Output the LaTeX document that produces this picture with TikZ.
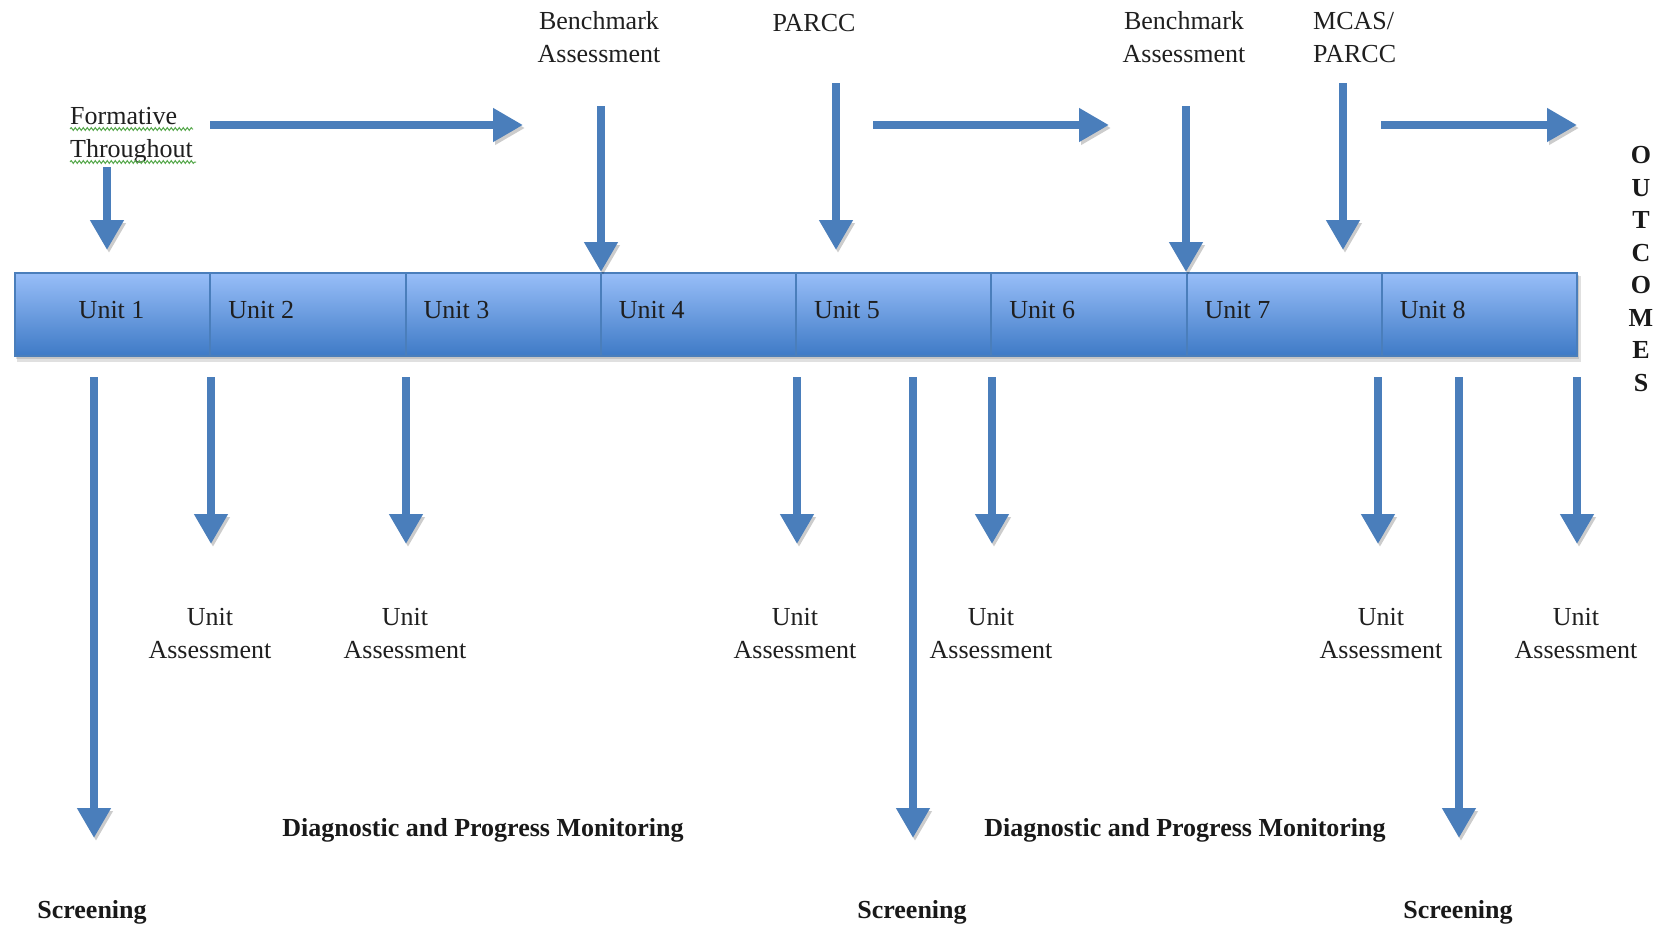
\documentclass[tikz,border=0pt]{standalone}
\usepackage{fontspec}
\setmainfont{Liberation Serif}
\usetikzlibrary{arrows.meta,decorations.pathmorphing}
\definecolor{ablue}{RGB}{74,126,187}
\definecolor{bartop}{RGB}{152,190,248}
\definecolor{barbot}{RGB}{62,122,198}
\definecolor{wavy}{RGB}{90,170,80}
\begin{document}
\begin{tikzpicture}[x=1pt,y=-1pt,
  shad/.style={preaction={draw=black,draw opacity=0.2,fill opacity=0.2,transform canvas={shift={(2pt,-3pt)}}}},
  arr/.style={draw=ablue,line width=8pt,-{Triangle[width=32pt,length=30pt]},shad},
  txt/.style={font=\fontsize{26}{32.5}\selectfont,inner sep=0pt,text=black!88},
  btxt/.style={font=\fontsize{26}{32.5}\selectfont\bfseries,inner sep=0pt,text=black!90},
  cell/.style={rectangle,draw=ablue,line width=2pt,top color=bartop,bottom color=barbot,
    minimum width=195.25pt,minimum height=83pt,anchor=north west,inner sep=0pt},
  spell/.style={draw=wavy,line width=1pt,decorate,decoration={snake,amplitude=1.4pt,segment length=4pt}}]
\useasboundingbox (0,0) rectangle (1663,927);

% bar shadow
\fill[black,opacity=0.12] (17,276) rectangle (1581,362);
\fill[black,opacity=0.12] (16,275) rectangle (1579,359);

% unit cells
\foreach \i in {1,...,8}
  \node[cell] (u\i) at ({14+(\i-1)*195.25},272) {};

% unit labels
\node[txt,anchor=base] (l1) at (111.6,318) {Unit 1};
\foreach \i in {2,...,8}
  \node[txt,anchor=base west] (l\i) at ({33+(\i-1)*195.25},318) {Unit \i};

% top texts (base anchor = last line baseline)
\node[txt,anchor=base west,align=left] (ft) at (70,157) {Formative\\Throughout};
\node[txt,anchor=base,align=center] (b1) at (599,62) {Benchmark\\Assessment};
\node[txt,anchor=base] (p1) at (814,31) {PARCC};
\node[txt,anchor=base,align=center] (b2) at (1184,62) {Benchmark\\Assessment};
\node[txt,anchor=base west,align=left] (m1) at (1313,62) {MCAS/\\PARCC};
\node[btxt,anchor=base,align=center] (out) at (1641,391) {O\\U\\T\\C\\O\\M\\E\\S};

% spell-check underlines
\coordinate (w1a) at (70,129); \coordinate (w1b) at (193,129);
\coordinate (w2a) at (70,162); \coordinate (w2b) at (196,162);
\draw[spell] (w1a) -- (w1b);
\draw[spell] (w2a) -- (w2b);

% top arrows
\coordinate (fa) at (107,167); \coordinate (fb) at (107,250);
\coordinate (ba1) at (601,106); \coordinate (bb1) at (601,272);
\coordinate (pa) at (836,83); \coordinate (pb) at (836,250);
\coordinate (ba2) at (1186,106); \coordinate (bb2) at (1186,272);
\coordinate (ma) at (1343,83); \coordinate (mb) at (1343,250);
\draw[arr] (fa) -- (fb);
\draw[arr] (ba1) -- (bb1);
\draw[arr] (pa) -- (pb);
\draw[arr] (ba2) -- (bb2);
\draw[arr] (ma) -- (mb);

% horizontal arrows
\coordinate (h1a) at (210,125); \coordinate (h1b) at (523,125);
\coordinate (h2a) at (873,125); \coordinate (h2b) at (1109,125);
\coordinate (h3a) at (1381,125); \coordinate (h3b) at (1577,125);
\draw[arr] (h1a) -- (h1b);
\draw[arr] (h2a) -- (h2b);
\draw[arr] (h3a) -- (h3b);

% bottom: unit assessments
\foreach \n/\x/\tx in {1/211/210,2/406/405,3/797/795,4/992/991,5/1378/1381,6/1577/1576}{
  \coordinate (ua\n) at (\x,377);
  \coordinate (ub\n) at (\x,544);
  \draw[arr] (ua\n) -- (ub\n);
  \node[txt,anchor=base,align=center] (ut\n) at (\tx,658) {Unit\\Assessment};
}

% bottom: screening
\foreach \n/\x/\tx in {1/94/92,2/913/912,3/1459/1458}{
  \coordinate (sa\n) at (\x,377);
  \coordinate (sb\n) at (\x,838);
  \draw[arr] (sa\n) -- (sb\n);
  \node[btxt,anchor=base] (st\n) at (\tx,918) {Screening};
}

% diagnostic labels
\node[btxt,anchor=base] (d1) at (483,836) {Diagnostic and Progress Monitoring};
\node[btxt,anchor=base] (d2) at (1185,836) {Diagnostic and Progress Monitoring};
\end{tikzpicture}
\end{document}
